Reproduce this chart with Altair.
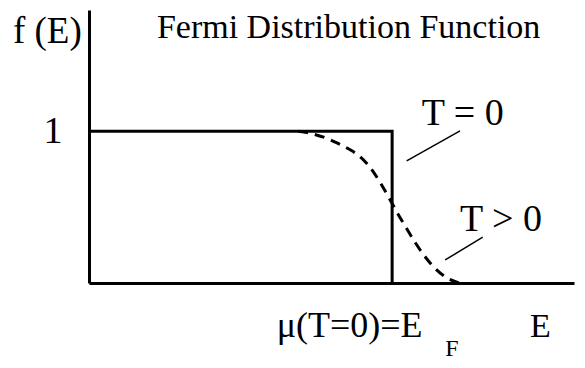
import altair as alt
import pandas as pd

FONT = "Liberation Serif"

# E in units of E_F ; f(E) occupation
# T = 0 : step function
step_E = [0.0, 1.0, 1.0]
step_f = [1.0, 1.0, 0.0]
step_order = [0, 1, 2]

# T > 0 : smeared curve
curve_E = [0.69, 0.74, 0.78, 0.82, 0.86, 0.89, 0.92, 0.96, 0.99, 1.015,
           1.04, 1.075, 1.11, 1.145, 1.18, 1.22]
curve_f = [1.0, 0.982, 0.957, 0.922, 0.88, 0.84, 0.78, 0.665, 0.56, 0.47,
           0.385, 0.27, 0.17, 0.09, 0.035, 0.0]

# leader lines from the labels to the curves
leader_E1 = [1.048, 1.175]
leader_f1 = [0.805, 0.152]
leader_E2 = [1.224, 1.299]
leader_f2 = [1.003, 0.302]

# annotation texts and their anchor points (data units)
label_text = ["Fermi Distribution Function", "T = 0", "T > 0",
              "\u03bc(T=0)=E", "F", "E", "f (E)"]
label_E = [0.224, 1.098, 1.224, 0.619, 1.175, 1.455, -0.024]
label_f = [1.614, 1.043, 0.345, -0.356, -0.48, -0.356, 1.582]
label_size = [34, 38, 38, 36, 24, 34, 37]
label_align = ["left", "left", "left", "left", "left", "left", "right"]

xs = alt.Scale(domain=[0, 1.6], nice=False, zero=False)
ys = alt.Scale(domain=[0, 1.8], nice=False, zero=False)

ax_x = alt.Axis(title=None, labels=False, ticks=False, grid=False,
                domainColor="black", domainWidth=3)
ax_y = alt.Axis(title=None, values=[1], labelExpr="'1'", ticks=False,
                grid=False, domainColor="black", domainWidth=3,
                labelFont=FONT, labelFontSize=38, labelColor="black",
                labelPadding=27, labelBaseline="middle")

step_df = pd.DataFrame({"E": step_E, "f": step_f, "o": step_order})
curve_df = pd.DataFrame({"E": curve_E, "f": curve_f})
leader_df = pd.DataFrame({"E": leader_E1, "f": leader_f1,
                          "E2": leader_E2, "f2": leader_f2})

X = alt.X("E:Q", scale=xs, axis=ax_x)
Y = alt.Y("f:Q", scale=ys, axis=ax_y)

step = alt.Chart(step_df).mark_line(color="black", strokeWidth=3, strokeJoin="miter").encode(
    x=X, y=Y, order="o:Q",
)

curve = alt.Chart(curve_df).mark_line(
    color="black", strokeWidth=3, strokeDash=[10, 7], interpolate="monotone"
).encode(x=X, y=Y)

leaders = alt.Chart(leader_df).mark_rule(color="black", strokeWidth=1.5).encode(
    x=X, y=Y, x2="E2:Q", y2="f2:Q",
)

layers = [step, curve, leaders]
for t, e, f, s, a in zip(label_text, label_E, label_f, label_size, label_align):
    df = pd.DataFrame({"E": [e], "f": [f], "t": [t]})
    layers.append(
        alt.Chart(df).mark_text(font=FONT, fontSize=s, align=a,
                                baseline="alphabetic", color="black").encode(
            x=X, y=Y, text="t:N",
        )
    )

chart = alt.layer(*layers).properties(
    width=485, height=273,
    autosize=alt.AutoSizeParams(type="none"),
    padding={"left": 81, "top": 2, "right": 3, "bottom": 77},
).configure_view(stroke=None)

chart.save("out.html", embed_options={"renderer": "svg", "actions": False})
